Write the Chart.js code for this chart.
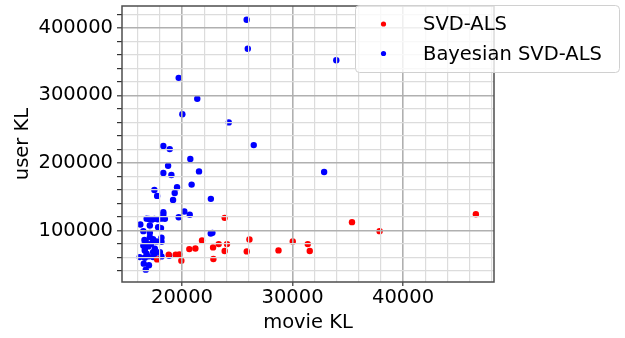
<!DOCTYPE html>
<html><head><meta charset="utf-8">
<script src="https://cdn.jsdelivr.net/npm/chart.js@4"></script>
<style>html,body{margin:0;padding:0;background:#fff}#w{width:625px;height:338px;position:relative}</style>
</head><body><div id="w"><canvas id="c" width="625" height="338"></canvas></div>
<script>
const seriesNames = ['SVD-ALS', 'Bayesian SVD-ALS'];
const seriesColors = ['#ff0000', '#0000ff'];

const svdX = [17750,18800,19430,19760,19940,20660,21210,21810,22810,22840,23320,24070,23860,23860,26100,25860,28730,30020,31380,31560,35380,37880,46590];
const svdY = [57200,64100,64100,64600,55300,72400,73400,85300,74900,57700,79800,79800,118700,69500,86700,69000,70500,83800,79800,69500,112300,99000,124000];

const bayesX = [25850,25950,33960,19700,21380,20030,24230,18310,18890,26490,20750,18740,18310,19040,21540,32860,20870,19550,17500,19340,17750,19190,22610,20210,18310,18310,20700,19700,16800,17000,17250,17500,17800,18100,18450,18300,16230,17090,17840,18100,16500,17090,22600,22750,17090,17380,18140,16720,17700,18140,16500,16950,17540,16650,16630,17380,18000,16790,17540,16170,16630,16930,17380,18140,18830,16540,17010,16720,16600,17200];
const bayesY = [412000,369000,352000,326000,295000,272000,260000,225000,220500,226400,205800,195900,185100,182200,187500,186600,167900,163900,160000,155600,151200,145300,146800,128000,127000,123600,123200,119600,117500,117000,116000,117200,116500,117500,117200,119500,108900,107400,104900,103500,99000,96500,95500,96500,90100,87000,89200,83800,83800,83300,77900,76400,73000,73000,70500,68000,68000,65600,65600,60600,59700,61600,60600,61600,62500,50900,48400,42000,86000,80000];

const xMajorTicks = [20000, 30000, 40000];
const yMajorTicks = [100000, 200000, 300000, 400000];
const xMinorStep = 2000;
const yMinorStep = 20000;
const xRange = [14570, 48230];
const yRange = [23700, 432400];
const xTitle = 'movie KL';
const yTitle = 'user KL';

const FONT = {family: 'DejaVu Sans', size: 19.5, lineHeight: 1.2};

function toPoints(xs, ys) { return xs.map((x, i) => ({x: x, y: ys[i]})); }
function minorTicks(min, max, step) {
  const out = [];
  for (let v = Math.ceil(min / step) * step; v <= max; v += step) out.push({value: v});
  return out;
}

const framePlugin = {
  id: 'frameLegend',
  afterDraw(chart) {
    const ctx = chart.ctx, a = chart.chartArea;
    ctx.save();
    ctx.strokeStyle = '#4d4d4d';
    ctx.lineWidth = 1.5;
    ctx.strokeRect(a.left, a.top, a.right - a.left, a.bottom - a.top);
    // legend
    const lx = 355.5, ly = 5.5, lw = 264, lh = 67, r = 4;
    ctx.beginPath();
    ctx.moveTo(lx + r, ly);
    ctx.lineTo(lx + lw - r, ly); ctx.quadraticCurveTo(lx + lw, ly, lx + lw, ly + r);
    ctx.lineTo(lx + lw, ly + lh - r); ctx.quadraticCurveTo(lx + lw, ly + lh, lx + lw - r, ly + lh);
    ctx.lineTo(lx + r, ly + lh); ctx.quadraticCurveTo(lx, ly + lh, lx, ly + lh - r);
    ctx.lineTo(lx, ly + r); ctx.quadraticCurveTo(lx, ly, lx + r, ly);
    ctx.closePath();
    ctx.fillStyle = 'rgba(255,255,255,0.8)';
    ctx.fill();
    ctx.strokeStyle = '#d0d0d0';
    ctx.lineWidth = 1;
    ctx.stroke();
    ctx.font = FONT.size + 'px "DejaVu Sans"';
    ctx.textBaseline = 'middle';
    ctx.textAlign = 'left';
    chart.data.datasets.forEach((ds, i) => {
      const cy = 24 + i * 29.5;
      ctx.beginPath();
      ctx.arc(383.5, cy, 2.6, 0, Math.PI * 2);
      ctx.fillStyle = ds.backgroundColor;
      ctx.fill();
      ctx.fillStyle = '#000';
      ctx.fillText(ds.label, 423, cy + 1);
    });
    ctx.restore();
  }
};

new Chart(document.getElementById('c'), {
  type: 'scatter',
  data: {
    datasets: [
      {label: seriesNames[0], data: toPoints(svdX, svdY), backgroundColor: seriesColors[0], borderWidth: 0, pointRadius: 3.2, pointHoverRadius: 3.2},
      {label: seriesNames[1], data: toPoints(bayesX, bayesY), backgroundColor: seriesColors[1], borderWidth: 0, pointRadius: 3.2, pointHoverRadius: 3.2}
    ]
  },
  options: {
    responsive: false,
    animation: false,
    events: [],
    layout: {padding: {left: 0, top: 6, right: 131, bottom: 0}},
    plugins: {legend: {display: false}, tooltip: {enabled: false}},
    scales: {
      x: {
        type: 'linear', min: xRange[0], max: xRange[1],
        afterBuildTicks: s => { s.ticks = minorTicks(s.min, s.max, xMinorStep); },
        afterFit: s => { s.height = 56; s.paddingLeft = 0; s.paddingRight = 0; },
        ticks: {
          autoSkip: false, maxRotation: 0, padding: 0, color: '#000', font: FONT,
          callback: v => xMajorTicks.includes(v) ? String(v) : ''
        },
        grid: {
          z: 1, tickLength: 4,
          color: c => (c.tick && xMajorTicks.includes(c.tick.value)) ? '#b0b0b0' : '#dcdcdc',
          lineWidth: c => (c.tick && xMajorTicks.includes(c.tick.value)) ? 1.6 : 1.2,
          tickColor: c => (c.tick && xMajorTicks.includes(c.tick.value)) ? '#333' : 'rgba(0,0,0,0)',
          tickWidth: 1.2
        },
        border: {display: false},
        title: {display: true, text: xTitle, color: '#000', font: FONT, padding: {top: 0, bottom: 3}}
      },
      y: {
        type: 'linear', min: yRange[0], max: yRange[1],
        afterBuildTicks: s => { s.ticks = minorTicks(s.min, s.max, yMinorStep); },
        afterFit: s => { s.width = 122; s.paddingTop = 0; s.paddingBottom = 0; },
        ticks: {
          autoSkip: false, padding: 4, color: '#000', font: FONT,
          callback: v => yMajorTicks.includes(v) ? String(v) : ''
        },
        grid: {
          z: 1, tickLength: 5,
          color: c => (c.tick && yMajorTicks.includes(c.tick.value)) ? '#b0b0b0' : '#dcdcdc',
          lineWidth: c => (c.tick && yMajorTicks.includes(c.tick.value)) ? 1.6 : 1.2,
          tickColor: '#333',
          tickWidth: 1.2
        },
        border: {display: false},
        title: {display: true, text: yTitle, color: '#000', font: FONT, padding: {top: 11, bottom: 0}}
      }
    }
  },
  plugins: [framePlugin]
});
</script>
</body></html>
